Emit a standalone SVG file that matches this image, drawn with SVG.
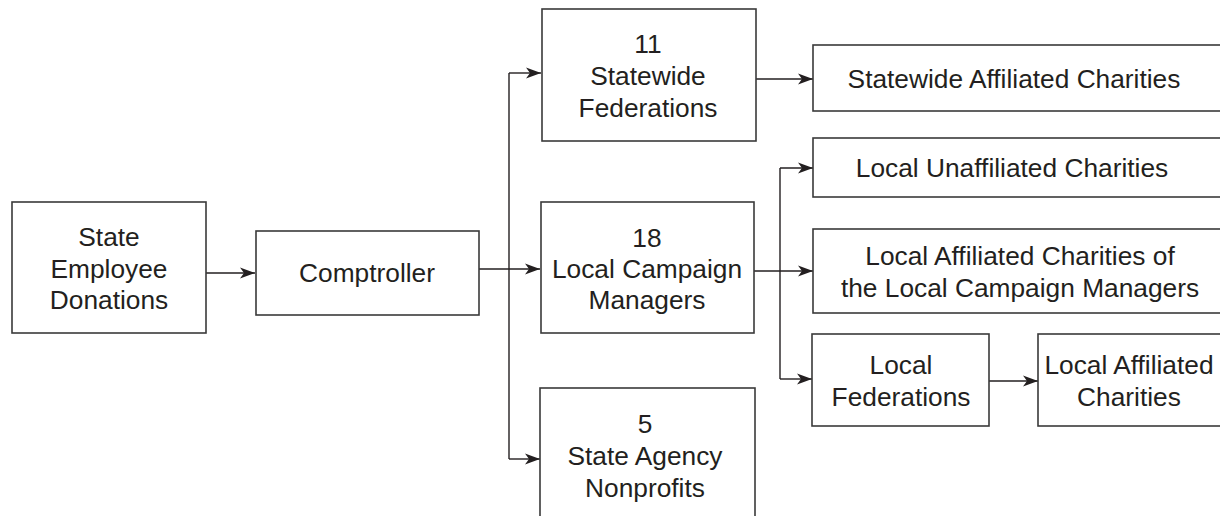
<svg xmlns="http://www.w3.org/2000/svg" width="1220" height="516" viewBox="0 0 1220 516">
<defs>
<marker id="arr" markerUnits="userSpaceOnUse" markerWidth="16" markerHeight="12" refX="15" refY="6" orient="auto">
<path d="M0,0.5 L15,6 L0,11.5 L4,6 Z" fill="#231f20"/>
</marker>
<style>
.box{fill:#fff;stroke:#3a3a3a;stroke-width:1.6}
.t{font-family:"Liberation Sans",Arial,sans-serif;font-size:26.3px;fill:#231f20;text-anchor:middle}
.c{fill:none;stroke:#231f20;stroke-width:1.4}
</style>
</defs>
<rect width="1220" height="516" fill="#fff"/>
<g id="connectors">
<path class="c" d="M206,273 H255" marker-end="url(#arr)"/>
<path class="c" d="M479,269 H540" marker-end="url(#arr)"/>
<path class="c" d="M509,73 V459"/>
<path class="c" d="M509,73 H541" marker-end="url(#arr)"/>
<path class="c" d="M509,459 H540" marker-end="url(#arr)"/>
<path class="c" d="M756,79 H813" marker-end="url(#arr)"/>
<path class="c" d="M754,271 H813" marker-end="url(#arr)"/>
<path class="c" d="M780,168 V379"/>
<path class="c" d="M780,168 H813" marker-end="url(#arr)"/>
<path class="c" d="M780,379 H812" marker-end="url(#arr)"/>
<path class="c" d="M989,381 H1038" marker-end="url(#arr)"/>
</g>
<g id="state-employee-donations">
<rect class="box" x="12" y="202" width="194" height="131"/>
<text class="t" x="109" y="246">State</text>
<text class="t" x="109" y="278">Employee</text>
<text class="t" x="109" y="309">Donations</text>
</g>
<g id="comptroller">
<rect class="box" x="256" y="231" width="223" height="84"/>
<text class="t" x="367" y="282">Comptroller</text>
</g>
<g id="statewide-federations">
<rect class="box" x="542" y="9" width="214" height="132"/>
<text class="t" x="648" y="53">11</text>
<text class="t" x="648" y="85">Statewide</text>
<text class="t" x="648" y="117">Federations</text>
</g>
<g id="local-campaign-managers">
<rect class="box" x="541" y="202" width="213" height="131"/>
<text class="t" x="647" y="247">18</text>
<text class="t" x="647" y="278">Local Campaign</text>
<text class="t" x="647" y="309">Managers</text>
</g>
<g id="state-agency-nonprofits">
<rect class="box" x="540" y="388" width="215" height="140"/>
<text class="t" x="645" y="433">5</text>
<text class="t" x="645" y="465">State Agency</text>
<text class="t" x="645" y="497">Nonprofits</text>
</g>
<g id="statewide-affiliated-charities">
<rect class="box" x="813" y="45" width="420" height="66"/>
<text class="t" x="1014" y="88">Statewide Affiliated Charities</text>
</g>
<g id="local-unaffiliated-charities">
<rect class="box" x="813" y="138" width="420" height="59"/>
<text class="t" x="1012" y="177">Local Unaffiliated Charities</text>
</g>
<g id="local-affiliated-charities-lcm">
<rect class="box" x="813" y="229" width="420" height="84"/>
<text class="t" x="1020" y="265">Local Affiliated Charities of</text>
<text class="t" x="1020" y="297">the Local Campaign Managers</text>
</g>
<g id="local-federations">
<rect class="box" x="812" y="334" width="177" height="92"/>
<text class="t" x="901" y="374">Local</text>
<text class="t" x="901" y="406">Federations</text>
</g>
<g id="local-affiliated-charities">
<rect class="box" x="1038" y="334" width="200" height="92"/>
<text class="t" x="1129" y="374">Local Affiliated</text>
<text class="t" x="1129" y="406">Charities</text>
</g>
</svg>
